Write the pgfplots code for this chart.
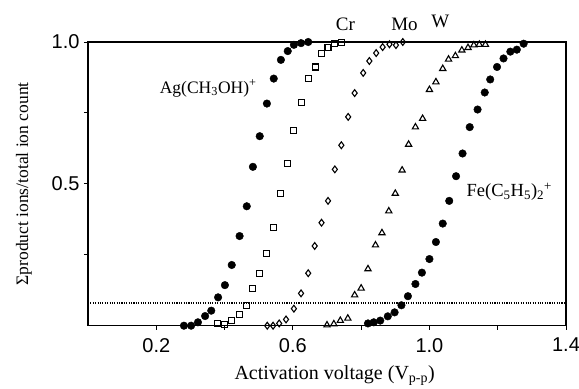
\documentclass[border=0pt]{standalone}
\usepackage{fontspec}
\setmainfont{Liberation Serif}
\newfontfamily\sansf{Liberation Sans}
\usepackage{pgfplots}
\pgfplotsset{compat=1.18}
\begin{document}
\begin{tikzpicture}
\path[use as bounding box] (-88bp,-63.3bp) rectangle (491bp,325.7bp);
\begin{axis}[
  at={(0,0)}, anchor=south west,
  scale only axis, width=478bp, height=283.7bp,
  xmin=0, xmax=1.4, ymin=0, ymax=1.0,
  clip=false,
  axis line style={line width=1.5pt},
  xtick={0.2,0.6,1.0,1.4},
  xticklabels={0.2,0.6,1.0,1.4},
  minor xtick={0.4,0.8,1.2},
  ytick={0.5,1.0},
  yticklabels={0.5,1.0},
  minor ytick={0.25,0.75},
  tick align=outside,
  xtick pos=bottom, ytick pos=left,
  major tick length=4bp, minor tick length=4bp,
  tick style={line width=0.9pt, black},
  /pgf/number format/assume math mode=true,
  tick label style={font=\sansf\fontsize{20bp}{22bp}\selectfont},
  xticklabel style={yshift=-5bp},
  yticklabel style={xshift=-1bp},
  every axis x label/.style={at={(axis description cs:0.516,-0.191)}, anchor=base},
  every axis y label/.style={at={(axis description cs:-0.134,0.5)}, rotate=90, anchor=center},
  xlabel style={font=\fontsize{20bp}{22bp}\selectfont},
  ylabel style={font=\fontsize{17.5bp}{20bp}\selectfont},
  xlabel={Activation voltage (V\textsubscript{p-p})},
  ylabel={Σproduct ions/total ion count},
]
% dotted threshold line
\addplot[black, line width=1.2pt, dash pattern=on 1.1pt off 1.3pt, forget plot] coordinates {(0,0.08) (1.4,0.08)};
% Ag(CH3OH)+
\addplot[only marks, mark=*, mark size=3.8bp, mark options={fill=black, draw=black}] coordinates {
(0.281,0) (0.302,0) (0.322,0.012) (0.343,0.034) (0.361,0.053) (0.381,0.10) (0.401,0.143)
(0.421,0.214) (0.444,0.316) (0.465,0.421) (0.483,0.56) (0.503,0.668) (0.524,0.783)
(0.544,0.871) (0.565,0.937) (0.585,0.968) (0.603,0.99) (0.624,0.996) (0.645,1.0)};
% Cr
\addplot[only marks, mark=square, mark size=3.0bp, mark options={draw=black, fill=white, line width=1.1pt}] coordinates {
(0.380,0.008) (0.40,0.005) (0.42,0.018) (0.443,0.041) (0.464,0.072) (0.481,0.13) (0.502,0.185)
(0.523,0.255) (0.543,0.345) (0.563,0.467) (0.583,0.572) (0.601,0.689) (0.624,0.788)
(0.645,0.871) (0.666,0.912) (0.684,0.959) (0.703,0.982) (0.723,0.994) (0.742,0.998)};
% Mo
\addplot[only marks, mark=diamond, mark size=3.4bp, mark options={draw=black, fill=white, line width=1.1pt}] coordinates {
(0.525,0) (0.542,0) (0.560,0.008) (0.580,0.022) (0.603,0.06) (0.624,0.114) (0.645,0.185)
(0.664,0.281) (0.684,0.363) (0.703,0.44) (0.723,0.551) (0.742,0.636) (0.762,0.736)
(0.781,0.82) (0.806,0.891) (0.824,0.933) (0.844,0.961) (0.863,0.982) (0.883,0.992)
(0.902,0.989) (0.922,1.0)};
% W
\addplot[only marks, mark=triangle, mark size=3.6bp, mark options={draw=black, fill=white, line width=1.1pt}] coordinates {
(0.700,0.002) (0.720,0.006) (0.739,0.018) (0.761,0.026) (0.781,0.108) (0.800,0.132)
(0.820,0.20) (0.842,0.284) (0.861,0.327) (0.881,0.404) (0.900,0.466) (0.920,0.548)
(0.939,0.639) (0.959,0.70) (0.980,0.73) (1.000,0.832) (1.019,0.859) (1.039,0.906)
(1.056,0.939) (1.076,0.951) (1.095,0.971) (1.113,0.98) (1.130,0.989) (1.146,0.991) (1.164,0.991)};
% Fe(C5H5)2+
\addplot[only marks, mark=*, mark size=3.8bp, mark options={fill=black, draw=black}] coordinates {
(0.820,0.008) (0.837,0.012) (0.856,0.018) (0.878,0.033) (0.898,0.047) (0.918,0.072)
(0.937,0.104) (0.959,0.147) (0.978,0.187) (1.000,0.235) (1.019,0.295) (1.039,0.36)
(1.058,0.44) (1.078,0.527) (1.097,0.607) (1.118,0.70) (1.141,0.762) (1.162,0.822)
(1.178,0.868) (1.198,0.912) (1.217,0.942) (1.237,0.966) (1.256,0.973) (1.276,0.994)};
% labels
\node[font=\fontsize{19bp}{21bp}\selectfont] at (axis cs:0.754,1.062) {Cr};
\node[font=\fontsize{19bp}{21bp}\selectfont] at (axis cs:0.927,1.062) {Mo};
\node[font=\fontsize{19bp}{21bp}\selectfont] at (axis cs:1.032,1.072) {W};
\node[font=\fontsize{17.5bp}{20bp}\selectfont] at (axis cs:0.352,0.836) {Ag(CH\textsubscript{3}OH)\textsuperscript{+}};
\node[font=\fontsize{18.5bp}{21bp}\selectfont] at (axis cs:1.234,0.472) {Fe(C\textsubscript{5}H\textsubscript{5})\textsubscript{2}\textsuperscript{+}};
\end{axis}
\end{tikzpicture}
\end{document}
